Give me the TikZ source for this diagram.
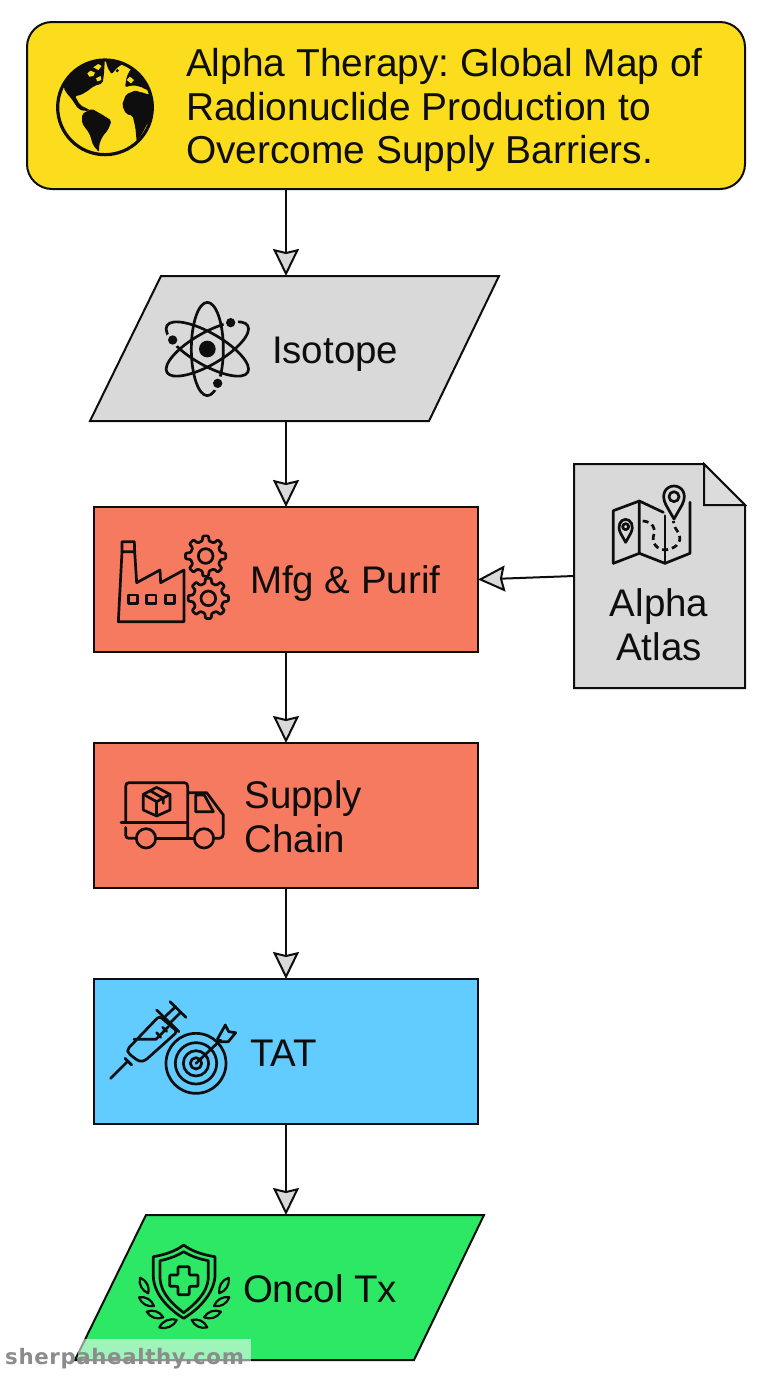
\documentclass[tikz,border=0pt]{standalone}
\usepackage{fontspec}
\setmainfont{Liberation Sans}
\newfontfamily\wmfont[LetterSpace=3]{DejaVu Sans}
\usetikzlibrary{arrows.meta,calc}
\definecolor{cyellow}{HTML}{FBDD1E}
\definecolor{cgray}{HTML}{D9D9D9}
\definecolor{csalmon}{HTML}{F67A60}
\definecolor{cblue}{HTML}{62CBFF}
\definecolor{cgreen}{HTML}{2CE865}
\definecolor{cink}{HTML}{0E0E0E}
\frenchspacing
\tikzset{
  shapebox/.style={draw=cink,line width=2pt,inner sep=0pt,outer sep=0pt},
  procbox/.style={shapebox,rectangle,minimum width=384pt,minimum height=145pt},
  slantframe/.style={rectangle,inner sep=0pt,outer sep=0pt,minimum width=409pt,minimum height=145pt},
  flowline/.style={draw=cink,line width=2pt,-{Stealth[length=27pt,width=26pt,inset=3pt,fill=cgray]}},
  lbl/.style={inner sep=0pt,outer sep=0pt,text=cink,font=\fontsize{38.5}{43.5}\selectfont},
  icon/.style={draw=cink,line width=2.7pt,line join=round,line cap=round},
  zoomed/.style 2 args={shift={(#1,#2)},x=0.33333pt,y=-0.33333pt},
}
\newcommand{\gearicon}[2]{%
  \begin{scope}[shift={(#1,#2)}]
    \draw[icon,rounded corners=1pt] (-13:46) \foreach \a in {0,45,...,315} { -- (\a-13:46) -- (\a-8:61) -- (\a+8:61) -- (\a+13:46) } -- cycle;
    \draw[icon] (0,0) circle[radius=22];
  \end{scope}}
\newcommand{\leaficon}[4]{\draw[icon,line width=2.2pt] (#1,#2) to[bend left=40] (#3,#4) to[bend left=40] (#1,#2);}
\newcommand{\slantpath}[2]{\draw[shapebox,fill=#2] ($(#1.north west)+(71,0)$) -- (#1.north east) -- ($(#1.south east)+(-70,0)$) -- (#1.south west) -- cycle;}
\begin{document}
\begin{tikzpicture}[x=1pt,y=-1pt]
\useasboundingbox (0,0) rectangle (768,1376);
\fill[white] (0,0) rectangle (768,1376);
\coordinate (spine) at (286,0);

% boxes
\node[shapebox,fill=cyellow,rectangle,rounded corners=25pt,minimum width=718pt,minimum height=167pt] (title) at (386,105.5) {};
\node[slantframe] (isotope) at (294.5,348.5) {};
\slantpath{isotope}{cgray}
\node[procbox,fill=csalmon] (mfg) at (286,579.5) {};
\node[procbox,fill=csalmon] (supply) at (286,815.5) {};
\node[procbox,fill=cblue] (tat) at (286,1051.5) {};
\node[slantframe] (oncol) at (279.5,1287.5) {};
\slantpath{oncol}{cgreen}
\node[rectangle,inner sep=0pt,outer sep=0pt,minimum width=171pt,minimum height=224pt] (atlas) at (659.5,576) {};
\draw[shapebox,fill=cgray] (atlas.north west) -- ($(atlas.north east)+(-41,0)$) -- ($(atlas.north east)+(0,41)$) -- (atlas.south east) -- (atlas.south west) -- cycle;
\draw[shapebox,fill=cgray!92!white] ($(atlas.north east)+(-41,0)$) -- ($(atlas.north east)+(-41,41)$) -- ($(atlas.north east)+(0,41)$) -- cycle;

% connectors
\draw[flowline] (title.south -| spine) -- (isotope.north -| spine);
\draw[flowline] (isotope.south -| spine) -- (mfg.north -| spine);
\draw[flowline] (mfg.south -| spine) -- (supply.north -| spine);
\draw[flowline] (supply.south -| spine) -- (tat.north -| spine);
\draw[flowline] (tat.south -| spine) -- (oncol.north -| spine);
\draw[flowline] (atlas.west) -- (mfg.east);

% labels
\node[lbl,anchor=west,align=left,font=\fontsize{38.9}{43.8}\selectfont] (ttext) at (186,110) {Alpha Therapy: Global Map of\\Radionuclide Production to\\Overcome Supply Barriers.};
\node[lbl,anchor=base west] (itext) at (272,363) {Isotope};
\node[lbl,anchor=base west] (mtext) at (250,593) {Mfg \& Purif};
\node[lbl,anchor=west,align=left] (stext) at (244.5,816.5) {Supply\\Chain};
\node[lbl,anchor=base west] (ttxt) at (250,1066) {TAT};
\node[lbl,anchor=base west] (otext) at (243,1302) {Oncol Tx};
\node[lbl,anchor=center,align=center] (atext) at (659,624.5) {Alpha\\Atlas};

% globe
\begin{scope}[zoomed={30}{30}]
  \begin{scope}
    \clip (225,232) circle[radius=142];
    \fill[cink,rounded corners=2pt] (100,172) -- (118,135) -- (160,108) -- (190,88) -- (225,80) -- (232,112) -- (245,133) -- (262,112) -- (290,95) -- (255,80) -- (225,80) -- (222,130) -- (218,160) -- (192,168) -- (170,185) -- (150,196) -- (135,198) -- (150,225) -- (180,240) -- (165,244) -- (145,237) -- (125,207) -- (108,187) -- cycle;
    \fill[cyellow] (172,130) -- (182,122) -- (195,128) -- (190,138) -- (178,140) -- cycle;
    \fill[cyellow] (190,112) -- (205,102) -- (215,108) -- (205,120) -- cycle;
    \fill[cyellow] (198,145) -- (212,138) -- (214,150) -- (202,154) -- cycle;
    \fill[cink,rounded corners=2pt] (156,252) -- (185,236) -- (215,253) -- (245,272) -- (234,300) -- (217,320) -- (207,345) -- (208,367) -- (190,347) -- (178,310) -- (156,280) -- cycle;
    \fill[cink,rounded corners=2pt] (276,225) -- (288,193) -- (320,180) -- (352,193) -- (375,195) -- (375,262) -- (352,280) -- (337,310) -- (320,334) -- (316,292) -- (308,257) -- (288,252) -- cycle;
    \fill[cink,rounded corners=2pt] (285,172) -- (290,140) -- (303,115) -- (330,108) -- (375,150) -- (375,190) -- (352,180) -- (325,168) -- (305,166) -- cycle;
    \fill[cyellow] (290,150) -- (300,140) -- (312,150) -- (303,160) -- cycle;
    \fill[cyellow] (310,178) -- (335,172) -- (352,188) -- (330,186) -- cycle;
    \fill[cink] (262,122) circle[radius=5];
  \end{scope}
  \draw[cink,line width=3.2pt] (225,232) circle[radius=142];
\end{scope}

% atom
\begin{scope}[zoomed={100}{290}]
  \begin{scope}[shift={(322,177)}]
    \draw[icon] (0,0) ellipse[x radius=48,y radius=140];
    \draw[icon,rotate=60] (0,0) ellipse[x radius=48,y radius=140];
    \draw[icon,rotate=-60] (0,0) ellipse[x radius=48,y radius=140];
    \fill[cink] (0,0) circle[radius=25];
  \end{scope}
  \foreach \ex/\ey in {392/98,218/150,353/280} {
    \fill[cgray] (\ex,\ey) circle[radius=22];
    \fill[cink] (\ex,\ey) circle[radius=14];
  }
\end{scope}

% factory
\begin{scope}[zoomed={100}{520}]
  \draw[icon] (55,305) -- (66,95) -- (104,95) -- (110,188) -- (180,150) -- (182,188) -- (252,150) -- (252,305) -- cycle;
  \draw[icon] (66,95) -- (66,65) -- (103,65) -- (104,95);
  \draw[icon] (85,225) rectangle (112,250);
  \draw[icon] (140,225) rectangle (168,250);
  \draw[icon] (197,225) rectangle (224,250);
  \gearicon{317}{108}
  \gearicon{325}{235}
\end{scope}

% map
\begin{scope}[zoomed={470}{455}]
  \draw[icon] (430,325) -- (430,167) -- (508,138) -- (580,172);
  \draw[icon] (508,138) -- (508,295) -- (430,325);
  \draw[icon] (508,295) -- (585,325) -- (660,295) -- (660,142);
  \draw[icon] (585,325) -- (585,182);
  \draw[icon,fill=cgray] (612,192) -- (588,150) .. controls (570,115) and (590,93) .. (612,93) .. controls (634,93) and (654,115) .. (636,150) -- cycle;
  \draw[icon] (612,125) circle[radius=15];
  \draw[icon] (467,262) -- (452,235) .. controls (440,212) and (452,193) .. (467,193) .. controls (482,193) and (494,212) .. (482,235) -- cycle;
  \draw[icon] (467,215) circle[radius=9];
  \draw[icon,dash pattern=on 6pt off 4pt,line cap=butt] (518,198) .. controls (550,200) and (558,222) .. (550,245) .. controls (545,270) and (570,292) .. (600,282) .. controls (635,270) and (635,245) .. (620,225) .. controls (612,215) and (612,205) .. (610,198);
\end{scope}

% truck
\begin{scope}[zoomed={105}{770}]
  \draw[icon] (62,155) -- (62,50) .. controls (62,42) and (65,38) .. (72,38) -- (238,38) .. controls (245,38) and (248,42) .. (248,50) -- (248,205);
  \draw[icon] (48,157) -- (245,157);
  \draw[icon] (62,172) -- (62,195) .. controls (62,202) and (66,205) .. (72,205) -- (93,205);
  \draw[icon] (153,205) -- (267,205);
  \draw[icon] (123,205) circle[radius=29];
  \draw[icon] (297,205) circle[radius=29];
  \draw[icon] (250,68) -- (305,68) -- (355,135) -- (355,192) .. controls (355,200) and (350,205) .. (343,205) -- (327,205);
  \draw[icon] (272,75) -- (272,125) -- (325,125) -- (298,75) -- cycle;
  \draw[icon] (155,52) -- (195,73) -- (195,120) -- (155,138) -- (115,120) -- (115,73) -- cycle;
  \draw[icon] (115,73) -- (155,95) -- (195,73);
  \draw[icon] (155,95) -- (155,138);
  \draw[icon] (135,62) -- (175,85) -- (175,100);
\end{scope}

% syringe and target
\begin{scope}[zoomed={100}{990}]
  \draw[icon] (32,265) -- (82,215);
  \draw[icon] (75,205) -- (95,225);
  \draw[icon,rounded corners=3pt] (85,190) -- (82,178) -- (178,78) -- (232,125) -- (135,212) -- (118,215) -- cycle;
  \draw[icon] (170,60) -- (237,125);
  \draw[icon] (102,148) -- (168,148) -- (205,110);
  \draw[icon] (170,128) -- (182,142);
  \draw[icon] (188,112) -- (200,124);
  \draw[icon] (197,78) -- (227,50);
  \draw[icon] (213,96) -- (243,66);
  \draw[icon] (210,35) -- (258,82);
  \foreach \r in {90,62,38,17} \draw[icon] (288,220) circle[radius=\r];
  \draw[icon] (288,220) -- (362,150);
  \draw[icon] (352,148) -- (376,105) -- (386,125) -- (407,128) -- (385,155) -- (364,155) -- cycle;
\end{scope}

% shield
\begin{scope}[zoomed={0}{1210}]
  \draw[icon] (551,105) .. controls (525,125) and (490,135) .. (460,140) -- (460,200) .. controls (462,255) and (510,300) .. (551,325) .. controls (592,300) and (640,255) .. (645,200) -- (645,140) .. controls (612,135) and (577,125) .. (551,105) -- cycle;
  \draw[icon] (551,125) .. controls (530,138) and (505,147) .. (480,152) -- (480,205) .. controls (482,250) and (520,285) .. (551,308) .. controls (582,285) and (622,250) .. (625,205) -- (625,152) .. controls (597,147) and (572,138) .. (551,125) -- cycle;
  \draw[icon,rounded corners=1pt] (534,170) -- (568,170) -- (568,195) -- (594,195) -- (594,229) -- (568,229) -- (568,254) -- (534,254) -- (534,229) -- (509,229) -- (509,195) -- (534,195) -- cycle;
  \leaficon{420}{203}{445}{250}
  \leaficon{417}{262}{462}{288}
  \leaficon{440}{305}{490}{322}
  \leaficon{478}{352}{530}{330}
  \leaficon{686}{203}{658}{250}
  \leaficon{688}{262}{642}{288}
  \leaficon{663}{305}{612}{322}
  \leaficon{622}{352}{575}{330}
\end{scope}

% watermark
\fill[white,opacity=0.55] (78,1339) rectangle (251,1361);
\node[inner sep=0pt,anchor=base west,text=black!45,font=\wmfont\bfseries\fontsize{21.3}{22}\selectfont] (mark) at (5,1364.5) {sherpahealthy.com};
\end{tikzpicture}
\end{document}
